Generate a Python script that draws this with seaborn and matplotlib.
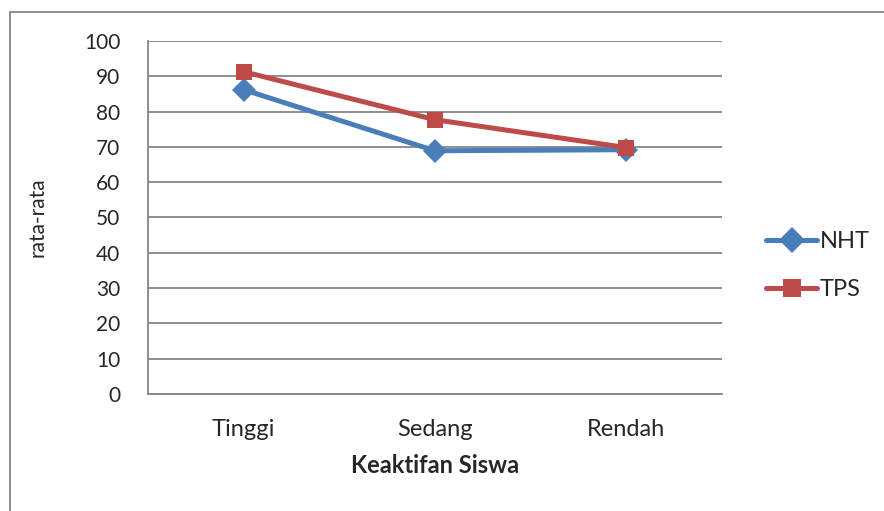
import pandas as pd
import seaborn as sns
import matplotlib.pyplot as plt
from matplotlib.patches import Rectangle

# data
categories = ["Tinggi", "Sedang", "Rendah"]
nht = [86.2, 68.9, 69.2]
tps = [91.3, 77.7, 69.8]

df = pd.DataFrame({
    "kategori": categories * 2,
    "nilai": nht + tps,
    "seri": ["NHT"] * 3 + ["TPS"] * 3,
})

sns.set_style("white")
plt.rcParams['font.family'] = ['Lato', 'DejaVu Sans']

fig = plt.figure(figsize=(8.84, 5.11), dpi=100)
ax = fig.add_axes([0.1674, 0.229, 0.6493, 0.6908])

pal = {"NHT": "#4A7EBB", "TPS": "#BE4B48"}
sns.lineplot(data=df, x="kategori", y="nilai", hue="seri", style="seri",
             markers={"NHT": "D", "TPS": "s"}, dashes=False, palette=pal,
             linewidth=3.6, markersize=12, markeredgewidth=0, sort=False, ax=ax)

ax.set_xlim(-0.5, 2.5)
ax.set_ylim(0, 100)
ax.set_yticks(range(0, 101, 10))
ax.yaxis.grid(True, color="#868686", linewidth=1.3)
ax.set_axisbelow(True)

# category ticks sit between categories (excel style)
ax.set_xticks([0, 1, 2])
ax.set_xticklabels(categories)
ax.set_xticks([-0.5, 0.5, 1.5, 2.5], minor=True)
ax.tick_params(axis="x", which="major", length=0, pad=18, labelsize=17)
ax.tick_params(axis="x", which="minor", length=6, width=1.3, color="#868686", direction="out")
ax.tick_params(axis="y", length=6, width=1.3, color="#868686", direction="out", pad=14, labelsize=15)

for s in ["top", "right"]:
    ax.spines[s].set_visible(False)
for s in ["left", "bottom"]:
    ax.spines[s].set_color("#868686")
    ax.spines[s].set_linewidth(1.3)

ax.set_xlabel("Keaktifan Siswa", fontsize=17, fontweight="bold", labelpad=10)
ax.set_ylabel("rata-rata", fontsize=15, labelpad=26)

leg = ax.legend(loc="center left", bbox_to_anchor=(0.866, 0.48), bbox_transform=fig.transFigure,
                frameon=False, fontsize=17, handlelength=2.2, handletextpad=0.1, labelspacing=1.15,
                borderaxespad=0, borderpad=0)
for h in leg.legend_handles:
    h.set_markersize(13)

fig.patches.append(Rectangle((10 / 884, -0.1), 1.2, 1 - 12 / 511 + 0.1, transform=fig.transFigure,
                             fill=False, edgecolor="#868686", linewidth=1.3))

fig.savefig("out.png", dpi=100)
